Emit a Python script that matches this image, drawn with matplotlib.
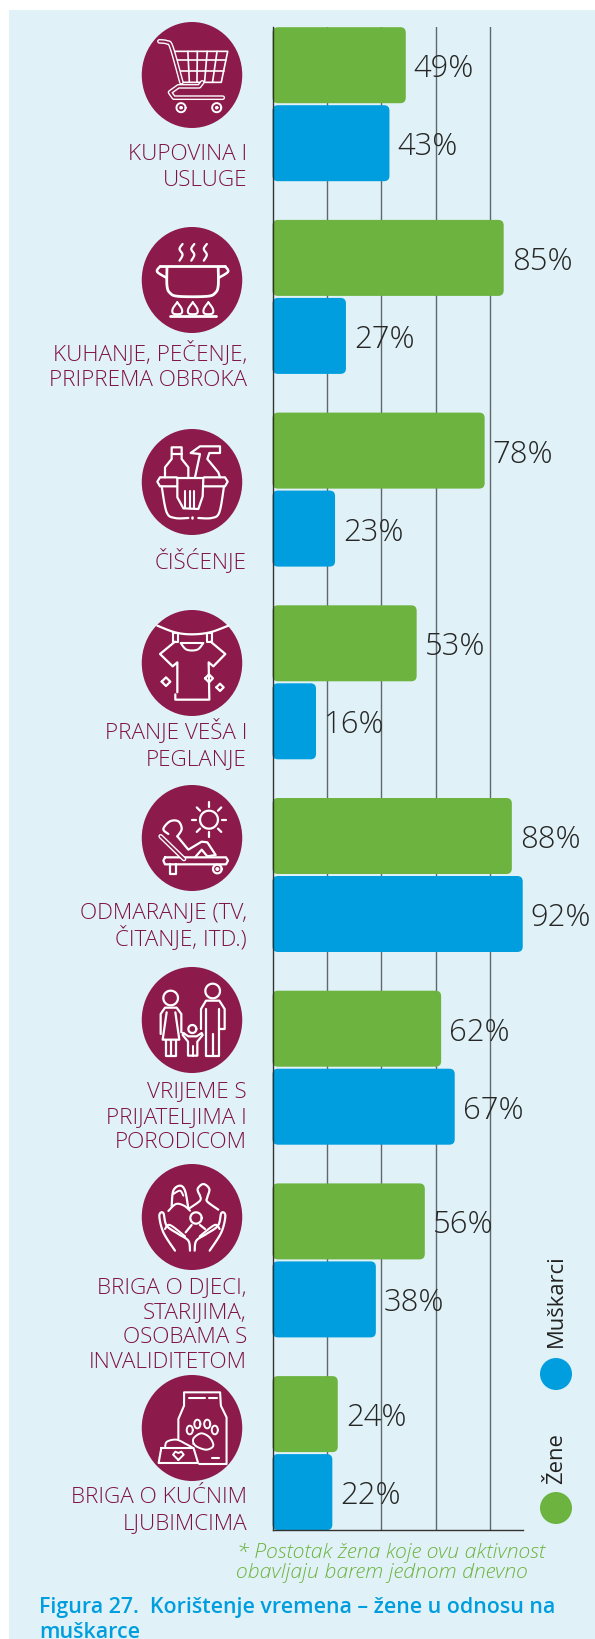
import numpy as np
import matplotlib
matplotlib.use('Agg')
import matplotlib.pyplot as plt
from matplotlib.patches import Ellipse, FancyBboxPatch, Rectangle

plt.rcParams['font.family'] = ['Open Sans', 'DejaVu Sans']

categories = [
    ['KUPOVINA I', 'USLUGE'],
    ['KUHANJE, PEČENJE,', 'PRIPREMA OBROKA'],
    ['ČIŠĆENJE'],
    ['PRANJE VEŠA I', 'PEGLANJE'],
    ['ODMARANJE (TV,', 'ČITANJE, ITD.)'],
    ['VRIJEME S', 'PRIJATELJIMA I', 'PORODICOM'],
    ['BRIGA O DJECI,', 'STARIJIMA,', 'OSOBAMA S', 'INVALIDITETOM'],
    ['BRIGA O KUĆNIM', 'LJUBIMCIMA'],
]
zene = [49, 85, 78, 53, 88, 62, 56, 24]
muskarci = [43, 27, 23, 16, 92, 67, 38, 22]
grid_ticks = [20, 40, 60, 80]

GREEN = '#6DB33F'
BLUE = '#009EDE'
MAROON = '#8C1A4B'
PANEL = '#E0F2F7'
W, H = 595, 1640

# layout in reference pixels
label_baselines = [[160, 186], [360, 386], [568], [738, 765], [918, 945],
                   [1097, 1123, 1148], [1293, 1318, 1343, 1368], [1503, 1529]]
icon_centers = [76, 281, 483, 664, 839, 1021, 1218, 1429]

fig = plt.figure(figsize=(W / 100, H / 100), dpi=100)
bg = fig.add_axes([0, 0, 1, 1], zorder=0)
bg.set_xlim(0, W)
bg.set_ylim(H, 0)
bg.axis('off')
bg.add_patch(Rectangle((9, 11), W, H, fc=PANEL, ec='none'))

# bars
left, right, top, bottom = 272.5, 523, 28.2, 1530.8
ax = fig.add_axes([left / W, 1 - bottom / H, (right - left) / W, (bottom - top) / H], zorder=1)
ax.patch.set_alpha(0)
xmax = 92.1
ymax = (bottom - top) / 192.7
ax.set_xlim(0, xmax)
ax.set_ylim(ymax, 0)
bar_h = 76 / 192.7
blue_off = 78 / 192.7
aspect = ((right - left) / xmax) / 192.7


def bar(x, y, color):
    ax.add_patch(FancyBboxPatch((0, y), x, bar_h, boxstyle='round,pad=0,rounding_size=2',
                                mutation_aspect=aspect, fc=color, ec='none', zorder=3,
                                clip_on=False))
    ax.annotate('%d%%' % x, (x, y + bar_h / 2), xytext=(8, 1), textcoords='offset pixels',
                ha='left', va='center_baseline', fontsize=22.3, fontweight='light', color='#262626',
                zorder=5, annotation_clip=False)


for i in range(len(zene)):
    bar(zene[i], i, GREEN)
    bar(muskarci[i], i + blue_off, BLUE)

ax.set_xticks(grid_ticks)
ax.set_yticks([])
ax.tick_params(length=0, labelbottom=False)
ax.grid(axis='x', color='#5F686C', lw=1)
ax.set_axisbelow(True)
for s in ['top', 'right']:
    ax.spines[s].set_visible(False)
for s in ['left', 'bottom']:
    ax.spines[s].set_color('#333333')
    ax.spines[s].set_linewidth(1)
    ax.spines[s].set_zorder(4)

# category labels
for lines, ys in zip(categories, label_baselines):
    for line, y in zip(lines, ys):
        bg.text(247, y, line, ha='right', va='baseline', fontsize=16.2, fontweight='light',
                color='#7F1243')

for cy in icon_centers:
    bg.add_patch(Ellipse((192, cy), 100.5, 106, fc=MAROON, ec='none'))


# icons, traced in zoom coordinates
def catmull(p, n=8):
    p = np.array(p, float)
    p = np.vstack([p[0], p, p[-1]])
    out = []
    for i in range(1, len(p) - 2):
        for t in np.linspace(0, 1, n, endpoint=False):
            out.append(0.5 * (2 * p[i] + (p[i + 1] - p[i - 1]) * t
                              + (2 * p[i - 1] - 5 * p[i] + 4 * p[i + 1] - p[i + 2]) * t ** 2
                              + (3 * p[i] - p[i - 1] - 3 * p[i + 1] + p[i + 2]) * t ** 3))
    out.append(p[-2])
    return np.array(out)


class Icon:
    def __init__(self, ox, oy, sx, sy):
        self.ox, self.oy, self.sx, self.sy = ox, oy, sx, sy

    def line(self, pts, lw=1.5, smooth=False, color='white', z=3):
        a = catmull(pts) if smooth else np.array(pts, float)
        bg.plot(self.ox + a[:, 0] / self.sx, self.oy + a[:, 1] / self.sy, color=color, lw=lw,
                solid_capstyle='round', solid_joinstyle='round', zorder=z)

    def tube(self, pts, smooth=False):
        self.line(pts, 3.4, smooth)
        self.line(pts, 1.4, smooth, color=MAROON, z=4)

    def circle(self, x, y, r, lw=1.5):
        t = np.linspace(0, 2 * np.pi, 40)
        self.line(np.c_[x + r * np.cos(t), y + r * self.sy / self.sx * np.sin(t)], lw)

    def oval(self, x, y, rx, ry, lw=1.5):
        t = np.linspace(0, 2 * np.pi, 30)
        self.line(np.c_[x + rx * np.cos(t), y + ry * np.sin(t)], lw)


# cart
c = Icon(0, 0, 2.635, 3)
c.tube([(420, 127), (440, 130), (452, 145), (478, 250)], True)
c.line([(458, 157), (600, 157), (583, 250), (478, 250)], 1.2)
c.line([(464, 183), (595, 183)], 1.2)
c.line([(471, 217), (589, 217)], 1.2)
for a, b in [(495, 499), (520, 519), (546, 539), (572, 560)]:
    c.line([(a, 157), (b, 250)], 1.2)
c.tube([(533, 250), (525, 262), (470, 262), (448, 280), (458, 296), (587, 296)])
for x in [477, 571]:
    c.circle(x, 326, 12, 1.4)
    c.circle(x, 326, 2.5, 1.2)

# pot
c = Icon(0, 0, 2.635, 3)
for x in [477, 508, 541]:
    c.line([(x + 4, 735), (x - 4, 750), (x + 4, 767), (x - 4, 785)], 1.6, True)
c.line([(422, 802), (593, 802)], 2)
c.line([(440, 805), (440, 860), (448, 882), (470, 892), (545, 892), (567, 882), (575, 860), (575, 805)], 2, True)
c.line([(422, 802), (414, 818), (438, 836)], 1.8, True)
c.line([(593, 802), (601, 818), (577, 836)], 1.8, True)
for x in [467, 508, 549]:
    c.line([(x, 910), (x + 12, 930), (x + 10, 944), (x - 10, 944), (x - 12, 930), (x, 910)], 1.5, True)
c.line([(447, 950), (568, 950)], 2)

# cleaning basket
c = Icon(120, 410, 3, 3)
c.line([(170, 205), (120, 205), (112, 218), (120, 232), (170, 232)], 1.6)
c.line([(252, 205), (315, 205), (323, 218), (315, 232), (252, 232)], 1.6)
c.line([(125, 232), (140, 310), (165, 327), (205, 327)], 1.6, True)
c.line([(312, 232), (298, 310), (275, 327), (235, 327)], 1.6, True)
c.line([(135, 205), (135, 175), (155, 150), (155, 115), (185, 115), (185, 150), (205, 175), (205, 205)], 1.6)
c.line([(155, 135), (185, 135)], 1.6)
c.line([(225, 205), (240, 135), (212, 132), (240, 112), (300, 112), (300, 132), (268, 132), (262, 150), (295, 190), (300, 205)], 1.6)
c.line([(172, 208), (250, 208)], 1.6)
c.line([(172, 208), (172, 265), (190, 298), (235, 300), (248, 262), (250, 208)], 1.6)
for x in [196, 209, 222]:
    c.line([(x, 245), (x, 298)], 1.5)
c.line([(217, 324), (217, 327)], 1.8)

# shirt
c = Icon(120, 410, 3, 3)
c.line([(112, 650), (165, 670), (215, 676), (270, 670), (325, 650)], 1.6, True)
for x in [160, 262]:
    c.line([(x, 672), (x + 15, 672), (x + 15, 698), (x, 698), (x, 672)], 1.5)
c.line([(182, 702), (250, 702)], 1.5)
c.line([(182, 702), (200, 722), (232, 722), (250, 702)], 1.5, True)
c.line([(165, 698), (120, 735), (158, 772), (172, 760), (172, 850)], 1.6)
c.line([(272, 698), (316, 735), (280, 772), (266, 760), (268, 872), (166, 872), (166, 856)], 1.6)
for x, y, r in [(138, 818, 13), (267, 808, 12), (300, 835, 11)]:
    c.line([(x - r, y), (x, y - r), (x + r, y), (x, y + r), (x - r, y)], 1.6)

# lounger
c = Icon(120, 780, 3, 3)
c.circle(267, 122, 27, 1.6)
for ang in np.arange(0, 360, 45):
    d = np.array([np.cos(np.radians(ang)), np.sin(np.radians(ang))])
    c.line([(267 + 38 * d[0], 122 + 38 * d[1]), (267 + 52 * d[0], 122 + 52 * d[1])], 1.6)
c.line([(145, 165), (130, 150), (150, 127), (175, 127), (185, 150), (172, 172)], 1.6, True)
c.tube([(122, 172), (192, 240)])
c.line([(172, 172), (205, 212), (245, 188), (262, 190), (287, 228), (262, 232), (245, 212), (225, 235)], 1.6)
c.line([(135, 235), (318, 235), (324, 245), (318, 256), (135, 256), (130, 245), (135, 235)], 1.6)
c.line([(150, 256), (150, 285), (168, 285), (168, 256)], 1.6)
c.circle(292, 270, 13, 1.6)
c.circle(292, 270, 3, 1.4)

# family
c = Icon(120, 780, 3, 3)
c.circle(152, 657, 22, 1.6)
c.line([(122, 765), (122, 705), (135, 686), (170, 686), (184, 705), (184, 760)], 1.6)
c.line([(140, 700), (128, 782), (178, 782), (166, 700)], 1.6)
c.line([(138, 782), (138, 830), (168, 830), (168, 782)], 1.6)
c.line([(153, 782), (153, 830)], 1.6)
c.circle(278, 636, 22, 1.6)
c.line([(243, 750), (243, 690), (258, 665), (298, 665), (314, 690), (314, 750), (300, 750)], 1.6)
c.line([(258, 690), (258, 830), (298, 830), (298, 690)], 1.6)
c.line([(278, 765), (278, 830)], 1.6)
c.circle(217, 750, 12, 1.6)
c.line([(190, 762), (205, 772), (230, 772), (245, 762), (248, 768), (232, 788), (232, 830), (204, 830), (204, 788), (188, 768), (190, 762)], 1.6)
c.line([(218, 800), (218, 830)], 1.4)

# care
c = Icon(120, 1150, 3, 3)
c.line([(155, 172), (160, 125), (180, 110), (195, 125), (205, 178)], 1.6, True)
c.line([(160, 135), (180, 125), (190, 140)], 1.4, True)
c.line([(145, 186), (168, 165), (192, 170), (210, 185)], 1.5, True)
c.line([(240, 140), (233, 120), (250, 105), (268, 120), (262, 145), (262, 158), (295, 182)], 1.6, True)
c.line([(240, 140), (240, 155), (208, 178)], 1.5, True)
c.circle(228, 207, 17, 1.6)
c.line([(197, 250), (215, 228)], 1.6)
c.line([(240, 228), (255, 240)], 1.6)
for f in [lambda x: x, lambda x: 434 - x]:
    c.line([(f(165), 305), (f(130), 250), (f(118), 200), (f(130), 192), (f(140), 230), (f(175), 255), (f(205), 275), (f(210), 305)], 1.6, True)
    c.line([(f(135), 240), (f(150), 228), (f(195), 262)], 1.5, True)

# pet food
c = Icon(0, 1340, 2.635, 3)
c.line([(470, 300), (470, 240), (485, 200), (485, 160), (580, 160), (582, 200), (597, 235), (597, 375), (525, 375)], 1.5)
c.line([(497, 178), (540, 178)], 1.5)
c.line([(550, 178), (572, 178)], 1.5)
for x, y in [(500, 273), (520, 255), (546, 255), (566, 273)]:
    c.oval(x, y, 8, 13, 1.4)
c.line([(510, 315), (510, 298), (530, 283), (552, 295), (562, 320), (545, 332), (522, 325), (510, 315)], 1.4, True)
c.line([(558, 357), (578, 357)], 1.5)
c.line([(425, 327), (510, 327), (522, 372), (418, 372), (425, 327)], 1.5)
c.line([(435, 325), (440, 308), (465, 302), (490, 315), (506, 325)], 1.4, True)
c.line([(470, 363), (456, 347), (462, 338), (470, 342), (478, 338), (484, 347), (470, 363)], 1.4)

# legend
bg.add_patch(Ellipse((556, 1375), 32, 32, fc=BLUE, ec='none'))
bg.add_patch(Ellipse((556, 1509), 32, 32, fc=GREEN, ec='none'))
bg.text(562, 1347, 'Muškarci', rotation=90, rotation_mode='anchor', ha='left', va='baseline',
        fontsize=15.8, color='#222222')
bg.text(562, 1484, 'Žene', rotation=90, rotation_mode='anchor', ha='left', va='baseline',
        fontsize=15.8, color='#222222')

# footnote and caption
bg.text(237, 1558, '* Postotak žena koje ovu aktivnost', style='italic', fontsize=15.35,
        fontweight='light', color='#6DB33F', ha='left', va='baseline')
bg.text(236, 1578, 'obavljaju barem jednom dnevno', style='italic', fontsize=15.35,
        fontweight='light', color='#6DB33F', ha='left', va='baseline')
bg.text(39, 1613, 'Figura 27.  Korištenje vremena – žene u odnosu na', fontweight='semibold',
        fontsize=15.4, color=BLUE, ha='left', va='baseline')
bg.text(39, 1638, 'muškarce', fontweight='semibold', fontsize=15.4, color=BLUE, ha='left', va='baseline')

fig.savefig('out.png', dpi=100, facecolor='white')
